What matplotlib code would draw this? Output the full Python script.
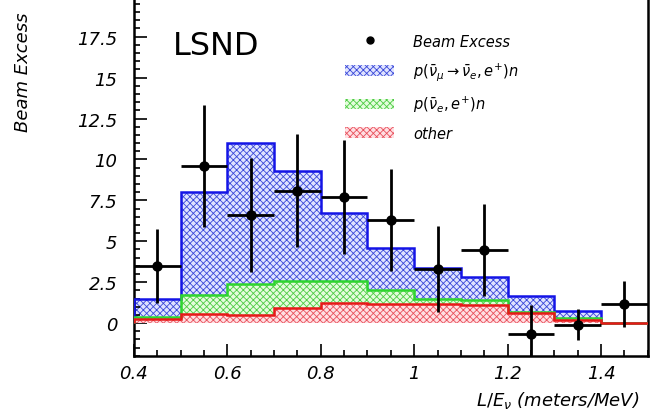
import numpy as np
import matplotlib
matplotlib.use("Agg")
import matplotlib.pyplot as plt
from matplotlib.patches import Patch
from matplotlib.lines import Line2D
from matplotlib.legend_handler import HandlerLine2D
from matplotlib.ticker import FixedLocator, MultipleLocator

# L/E bins (meters/MeV)
bin_edges = [0.4, 0.5, 0.6, 0.7, 0.8, 0.9, 1.0, 1.1, 1.2, 1.3, 1.4, 1.5]
bin_centers = [0.45, 0.55, 0.65, 0.75, 0.85, 0.95, 1.05, 1.15, 1.25, 1.35, 1.45]

# stacked expectations (each histogram drawn from zero)
total_osc = [1.5, 8.0, 11.0, 9.3, 6.7, 4.6, 3.35, 2.8, 1.65, 0.73, 0.0]
nue_bkg = [0.4, 1.7, 2.4, 2.6, 2.6, 2.0, 1.5, 1.4, 0.7, 0.3, 0.0]
other_bkg = [0.25, 0.55, 0.5, 0.9, 1.2, 1.15, 1.15, 1.1, 0.6, 0.2, 0.0]

# data
beam_excess = [3.5, 9.6, 6.6, 8.1, 7.7, 6.3, 3.3, 4.45, -0.65, -0.1, 1.15]
excess_err = [2.25, 3.7, 3.5, 3.45, 3.5, 3.1, 2.65, 2.8, 1.75, 0.95, 1.4]

ytick_vals = [0, 2.5, 5, 7.5, 10, 12.5, 15, 17.5]
ytick_labels = ["0", "2.5", "5", "7.5", "10", "12.5", "15", "17.5"]
xtick_vals = [0.4, 0.6, 0.8, 1.0, 1.2, 1.4]
xtick_labels = ["0.4", "0.6", "0.8", "1", "1.2", "1.4"]

labels = ["Beam Excess",
          r"$p(\bar{\nu}_{\mu}\rightarrow\bar{\nu}_{e},e^{+})n$",
          r"$p(\bar{\nu}_{e},e^{+})n$",
          "other"]


class RightMarker(HandlerLine2D):
    """Put the single legend marker at the right end of the handle box."""
    def get_xdata(self, legend, xdescent, ydescent, width, height, fontsize):
        xdata = np.array([-xdescent, -xdescent + width])
        return xdata, np.array([-xdescent + width * 0.97])


plt.rcParams["hatch.linewidth"] = 0.6
plt.rcParams["mathtext.fontset"] = "dejavusans"

fig = plt.figure(figsize=(6.53, 4.14), dpi=100)
ax = fig.add_axes([0.205, 0.138, 0.787, 0.862])

styles = [
    (total_osc, "#dfe3ff", "#3a48d8", "#1414e6"),
    (nue_bkg, "#e4fcdc", "#4ccc44", "#2ed62e"),
    (other_bkg, "#ffdfe2", "#e8505c", "#e81818"),
]
for z, (vals, face, hatchc, linec) in enumerate(styles):
    ax.stairs(vals, bin_edges, baseline=0, fill=True, facecolor=face,
              edgecolor=hatchc, hatch="xxxxx", linewidth=0, zorder=1 + z)
    ax.stairs(vals, bin_edges, baseline=0, color=linec, linewidth=1.8,
              zorder=4 + z)

xerr = [0.05] * len(bin_centers)
ax.errorbar(bin_centers, beam_excess, yerr=excess_err, xerr=xerr,
            fmt="o", color="black", markersize=6.5, elinewidth=2,
            capsize=0, zorder=10)

ax.set_xlim(0.4, 1.5)
ax.set_ylim(-2, 19.8)
ax.spines["top"].set_visible(False)
for s in ["left", "bottom", "right"]:
    ax.spines[s].set_linewidth(1.8)

ax.yaxis.set_major_locator(FixedLocator(ytick_vals))
ax.set_yticklabels(ytick_labels)
ax.yaxis.set_minor_locator(MultipleLocator(0.5))
ax.xaxis.set_major_locator(FixedLocator(xtick_vals))
ax.set_xticklabels(xtick_labels)
ax.xaxis.set_minor_locator(MultipleLocator(0.05))
ax.tick_params(which="both", direction="in", right=False, top=False,
               width=1.2)
ax.tick_params(which="major", length=9, labelsize=13)
ax.tick_params(axis="y", which="major", pad=12)
ax.tick_params(axis="x", which="major", pad=6)
ax.tick_params(which="minor", length=4.5)
for lab in ax.get_xticklabels() + ax.get_yticklabels():
    lab.set_style("italic")

ax.set_ylabel("Beam Excess", loc="top", fontsize=13, style="italic")
ax.yaxis.set_label_coords(-0.198, 0.964)
ax.set_xlabel(r"$L/E_{\nu}$ (meters/MeV)", loc="right", fontsize=13,
              style="italic")
ax.xaxis.set_label_coords(0.984, -0.092)

ax.text(0.075, 0.845, "LSND", transform=ax.transAxes, fontsize=23,
        va="baseline", ha="left")

handles = [
    Line2D([], [], marker="o", linestyle="none", color="black", markersize=5),
    Patch(facecolor=styles[0][1], edgecolor=styles[0][2], hatch="xxxxx", linewidth=0),
    Patch(facecolor=styles[1][1], edgecolor=styles[1][2], hatch="xxxxx", linewidth=0),
    Patch(facecolor=styles[2][1], edgecolor=styles[2][2], hatch="xxxxx", linewidth=0),
]
leg = ax.legend(handles, labels, loc="upper left",
                bbox_to_anchor=(0.385, 0.94), frameon=False,
                prop={"size": 10.5, "style": "italic"},
                handlelength=3.4, handleheight=0.75, labelspacing=0.8,
                handletextpad=1.3, handler_map={handles[0]: RightMarker()})

fig.savefig("out.png", dpi=100)
